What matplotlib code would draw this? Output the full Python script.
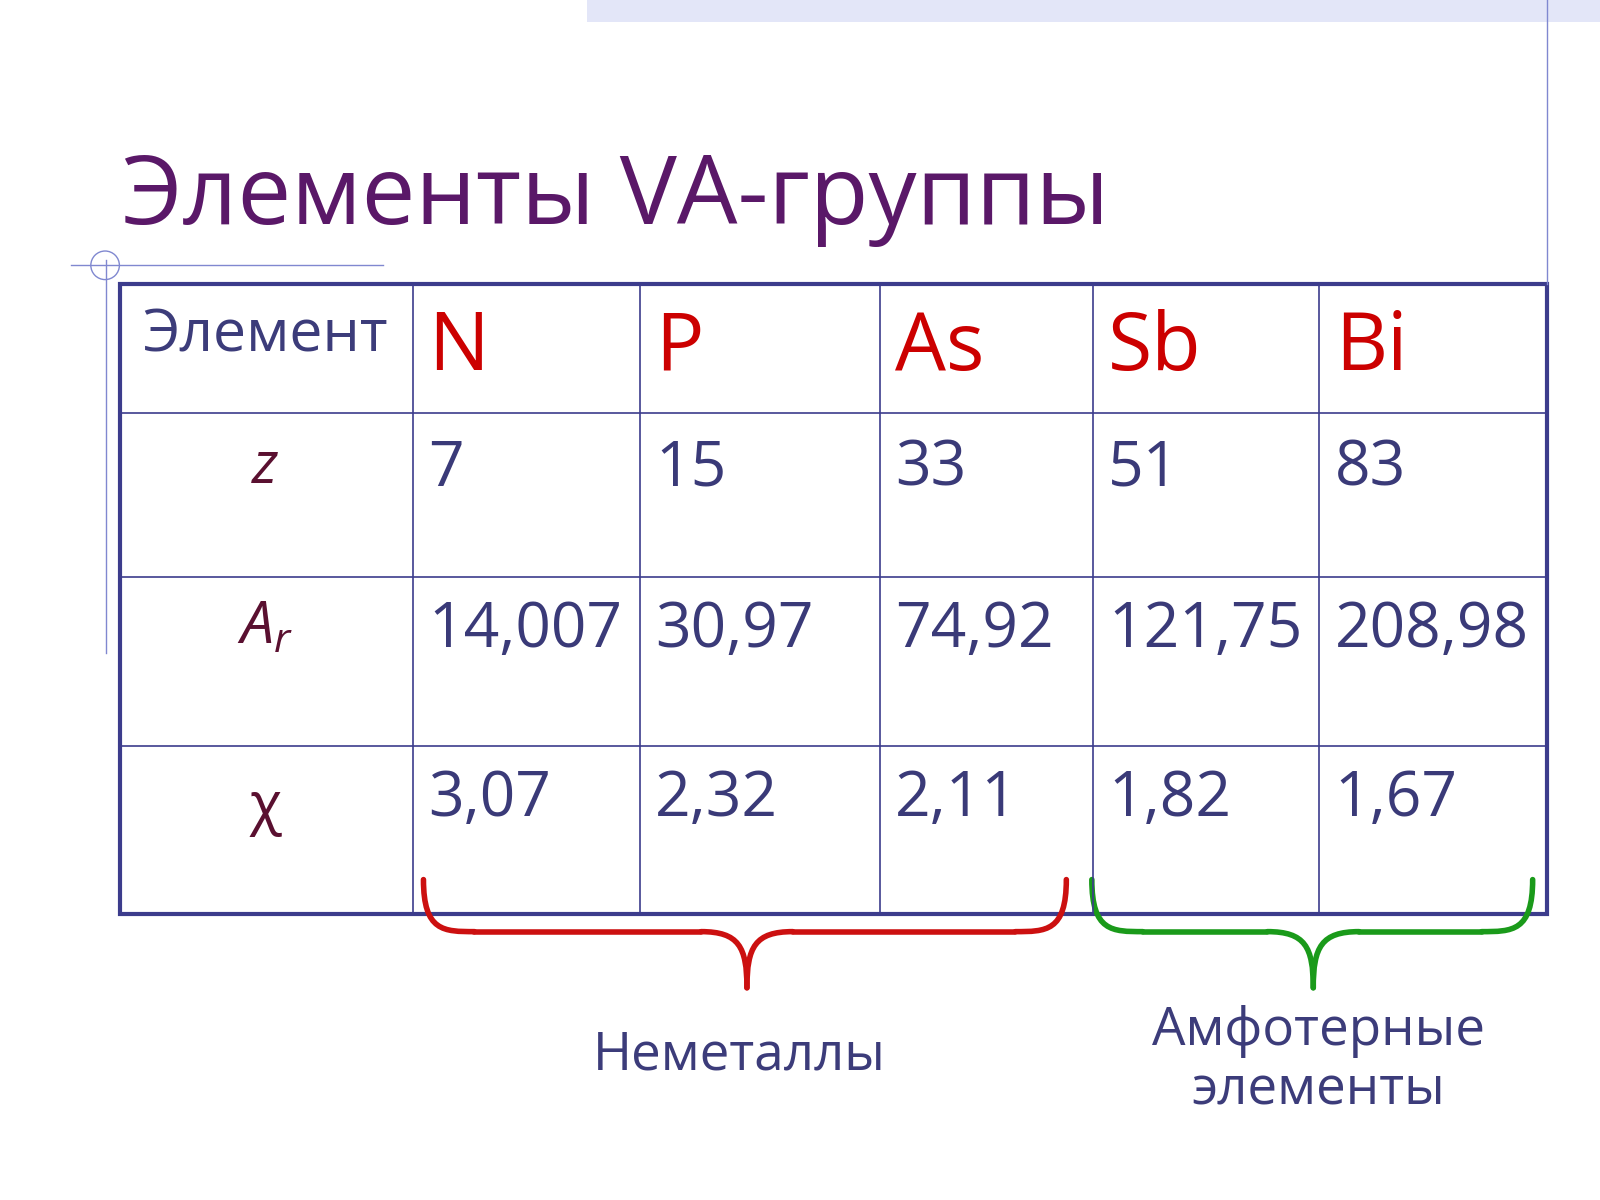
import matplotlib
matplotlib.use("Agg")
import matplotlib.pyplot as plt
from matplotlib.path import Path
from matplotlib.patches import PathPatch, Rectangle, Circle

title = "Элементы VA-группы"
elements = ["N", "P", "As", "Sb", "Bi"]
z_vals = ["7", "15", "33", "51", "83"]
ar_vals = ["14,007", "30,97", "74,92", "121,75", "208,98"]
chi_vals = ["3,07", "2,32", "2,11", "1,82", "1,67"]
row_labels = ["$z$", "$A_r$", "χ"]
group_labels = ["Неметаллы", "Амфотерные\nэлементы"]

FONT = ["Open Sans", "DejaVu Sans"]
plt.rcParams['font.family'] = FONT
plt.rcParams['mathtext.fontset'] = 'custom'
plt.rcParams['mathtext.it'] = 'Open Sans:italic'

W, H = 1568, 1176
fig = plt.figure(figsize=(16, 12), dpi=100)
ax = fig.add_axes([0, 0, 1, 1])
ax.set_xlim(0, W); ax.set_ylim(H, 0); ax.axis('off')
s = 1600 / 1568 / 1.389  # px -> pt

# decorations
ax.add_patch(Rectangle((575, 0), W - 575, 22, color="#e3e6f8", lw=0))
ax.plot([1516, 1516], [0, 278], color="#8088d0", lw=1)
ax.plot([104, 104], [255, 640], color="#8088d0", lw=1)
ax.plot([70, 375], [260, 260], color="#8088d0", lw=1)
ax.add_patch(Circle((103, 260), 14, fill=False, ec="#8088d0", lw=1))

ax.text(120, 220, title, color="#5a1868", fontsize=94 * s, va='baseline', ha='left')

# table
xs = [118, 405, 627, 862, 1071, 1293, 1516]
ys = [278, 405, 565, 731, 896]
tc = "#3c3c8c"
for x in xs[1:-1]:
    ax.plot([x, x], [ys[0], ys[-1]], color=tc, lw=1.2)
for y in ys[1:-1]:
    ax.plot([xs[0], xs[-1]], [y, y], color=tc, lw=1.2)
ax.add_patch(Rectangle((xs[0], ys[0]), xs[-1] - xs[0], ys[-1] - ys[0], fill=False, ec=tc, lw=3))

ax.text(260, 330, "Элемент", color="#3c3c7a", fontsize=58 * s, ha='center', va='center')
numc = "#3a3a78"
for i, e in enumerate(elements):
    x0 = xs[i + 1] + 15
    ax.text(x0, 342, e, color="#cc0000", fontsize=79 * s, ha='left', va='center')
    ax.text(x0, 460, z_vals[i], color=numc, fontsize=61 * s, ha='left', va='center')
    ax.text(x0, 618, ar_vals[i], color=numc, fontsize=61 * s, ha='left', va='center')
    ax.text(x0, 784, chi_vals[i], color=numc, fontsize=61 * s, ha='left', va='center')
lc = "#5a1030"
ax.text(260, 458, row_labels[0], color=lc, fontsize=58 * s, ha='center', va='center')
ax.text(260, 616, row_labels[1], color=lc, fontsize=58 * s, ha='center', va='center')
ax.text(260, 792, row_labels[2], color=lc, fontsize=58 * s, ha='center', va='center')

def brace(x0, x1, xm, ytop, ymid, ytip, color):
    segs = [
        ([(x0, ytop), (x0, ymid), (x0 + 20, ymid), (x0 + 50, ymid)], [1, 4, 4, 4]),
        ([(x0 + 50, ymid), (xm - 45, ymid)], [1, 2]),
        ([(xm - 45, ymid), (xm - 8, ymid), (xm, ymid + 15), (xm, ytip)], [1, 4, 4, 4]),
        ([(xm, ytip), (xm, ymid + 15), (xm + 8, ymid), (xm + 45, ymid)], [1, 4, 4, 4]),
        ([(xm + 45, ymid), (x1 - 50, ymid)], [1, 2]),
        ([(x1 - 50, ymid), (x1 - 20, ymid), (x1, ymid), (x1, ytop)], [1, 4, 4, 4]),
    ]
    for v, c in segs:
        ax.add_patch(PathPatch(Path(v, c), fill=False, ec=color, lw=4, capstyle='round'))

brace(415, 1045, 732, 862, 913, 968, "#cc1010")
brace(1070, 1502, 1287, 862, 913, 968, "#1a9a1a")

ax.text(725, 1035, group_labels[0], color="#3c3c7a", fontsize=52 * s, ha='center', va='center')
ax.text(1292, 1040, group_labels[1], color="#3c3c7a", fontsize=52 * s, ha='center', va='center',
        linespacing=1.15)

fig.savefig("out.png", dpi=100, facecolor="white")
